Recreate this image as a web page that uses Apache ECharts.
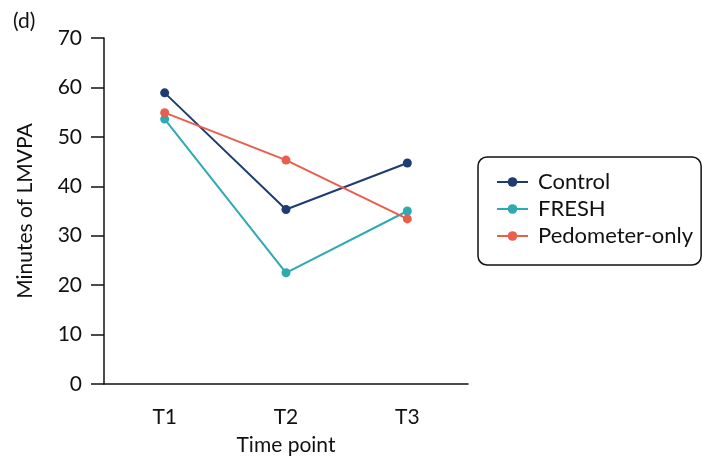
<!DOCTYPE html>
<html><head><meta charset="utf-8">
<script src="https://cdn.jsdelivr.net/npm/echarts@6/dist/echarts.min.js"></script>
<style>html,body{margin:0;padding:0;background:#fff}#c{width:702px;height:461px}</style>
</head><body><div id="c"></div>
<script>
const categories = ['T1', 'T2', 'T3'];
const control = [58.9, 35.3, 44.7];
const fresh = [53.6, 22.5, 35.0];
const pedometer = [54.9, 45.3, 33.4];
const seriesNames = ['Control', 'FRESH', 'Pedometer-only'];
const colors = ['#1d3d70', '#2eaab1', '#eb5e4e'];
const yTicks = [0, 10, 20, 30, 40, 50, 60, 70];

const chart = echarts.init(document.getElementById('c'), null, {renderer: 'canvas'});
const font = 'Lato';
const fs = 21;
function mk(name, data, color) {
  return {
    name: name, type: 'line', data: data, symbol: 'circle', symbolSize: 9,
    itemStyle: {color: color}, lineStyle: {color: color, width: 2}, z: 3
  };
}
chart.setOption({
  animation: false,
  textStyle: {fontFamily: font},
  graphic: [{type: 'text', left: 13, top: 11, style: {text: '(d)', font: '21px Lato', fill: '#111'}}],
  grid: {left: 104, right: 234, top: 38, bottom: 77},
  legend: {
    orient: 'vertical', left: 478, top: 157,
    data: seriesNames,
    itemWidth: 31, itemHeight: 12, itemGap: 5,
    padding: [14, 8, 18, 18],
    borderColor: '#111', borderWidth: 1.5, borderRadius: 9,
    textStyle: {fontFamily: font, fontSize: 22, color: '#111', lineHeight: 22, padding: [0, 0, 0, 5]}
  },
  xAxis: {
    type: 'category', data: categories, boundaryGap: true,
    name: 'Time point', nameLocation: 'middle', nameGap: 51,
    nameTextStyle: {fontFamily: font, fontSize: fs, color: '#111'},
    axisLine: {lineStyle: {color: '#111', width: 1.5}},
    axisTick: {alignWithLabel: true, length: 12, lineStyle: {color: '#111', width: 1.5}},
    axisLabel: {fontFamily: font, fontSize: fs, color: '#111', margin: 23}
  },
  yAxis: {
    type: 'value', min: yTicks[0], max: yTicks[yTicks.length - 1], interval: 10,
    name: 'Minutes of LMVPA', nameLocation: 'middle', nameGap: 68,
    nameTextStyle: {fontFamily: font, fontSize: fs, color: '#111'},
    axisLine: {show: true, lineStyle: {color: '#111', width: 1.5}},
    axisTick: {show: true, length: 13, lineStyle: {color: '#111', width: 1.5}},
    axisLabel: {fontFamily: font, fontSize: fs, color: '#111', margin: 22},
    splitLine: {show: false}
  },
  series: [mk(seriesNames[0], control, colors[0]), mk(seriesNames[1], fresh, colors[1]), mk(seriesNames[2], pedometer, colors[2])]
});
</script></body></html>
